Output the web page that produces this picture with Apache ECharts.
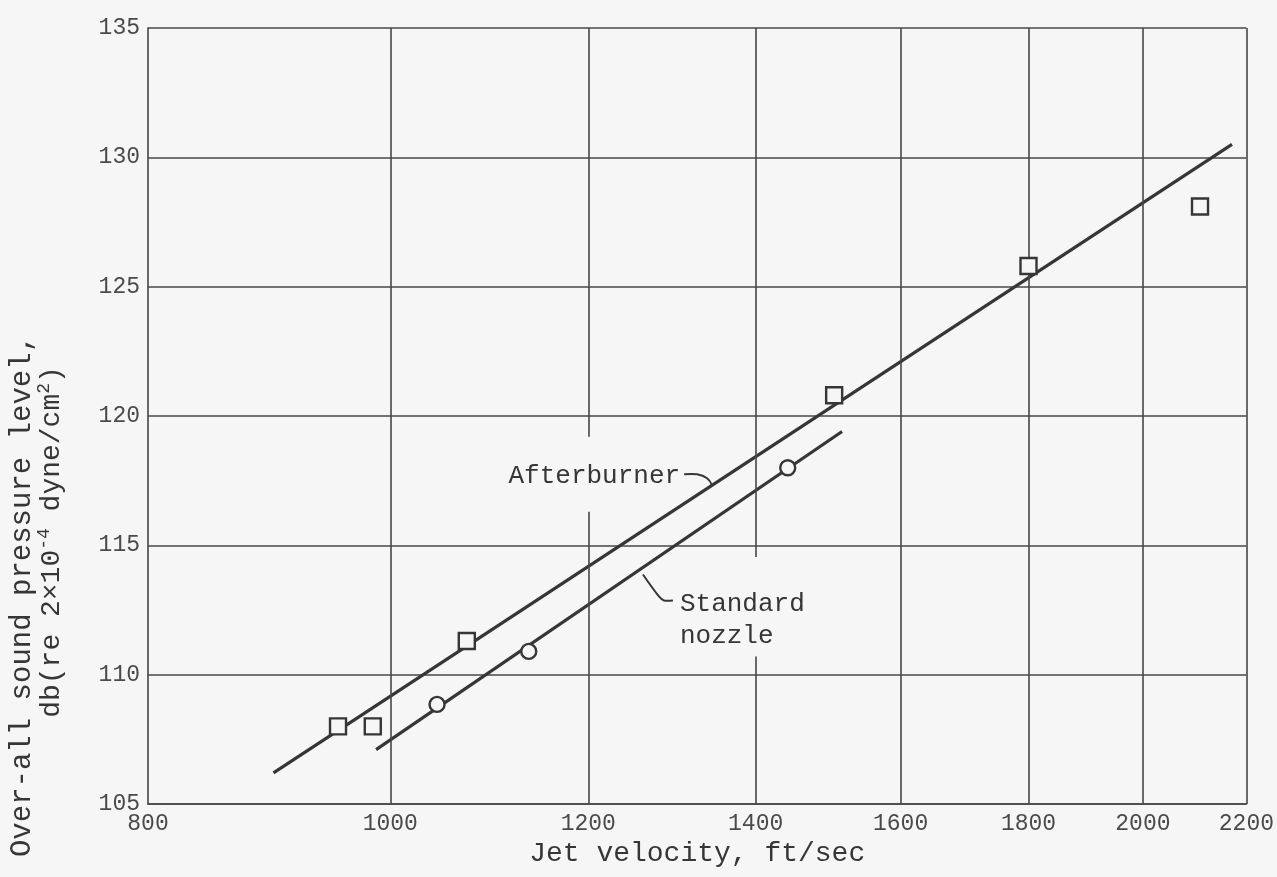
<!DOCTYPE html>
<html>
<head>
<meta charset="utf-8">
<script src="https://cdn.jsdelivr.net/npm/echarts@6/dist/echarts.min.js"></script>
<style>
  html, body { margin: 0; padding: 0; background: #f6f6f6; }
  #chart { width: 1277px; height: 877px; }
</style>
</head>
<body>
<div id="chart"></div>
<script>
// Jet velocity tick values (log-scale axis) and sound pressure level range
const xTicks = [800, 1000, 1200, 1400, 1600, 1800, 2000, 2200];
const yMin = 105, yMax = 135, yStep = 5;

// Measured points: [jet velocity ft/sec, db]
const afterburnerPts = [[953, 108.0], [984, 108.0], [1073, 111.3], [1505, 120.8], [1800, 125.8], [2108, 128.1]];
const standardPts = [[1044, 108.85], [1136, 110.9], [1442, 118.0]];

// Faired lines through each data set (end points)
const afterburnerFit = [[898, 106.2], [2171, 130.5]];
const standardFit = [[987, 107.1], [1516, 119.4]];

// Vertical grid lines are interrupted where the labels sit: [from db, to db]
const gridBreaks = { 1200: [116.3, 119.2], 1400: [110.7, 114.55] };

const INK = '#363636';
const GRID = '#474747';
const BG = '#f6f6f6';
const MONO = '"Liberation Mono", "DejaVu Sans Mono", monospace';

// Vertical grid segments built from the tick values
const vGrid = [];
xTicks.slice(1).forEach(function (v) {
  const br = gridBreaks[v];
  if (br) {
    vGrid.push([{ coord: [v, yMin] }, { coord: [v, br[0]] }]);
    vGrid.push([{ coord: [v, br[1]] }, { coord: [v, yMax] }]);
  } else {
    vGrid.push([{ coord: [v, yMin] }, { coord: [v, yMax] }]);
  }
});

const chart = echarts.init(document.getElementById('chart'), null, { renderer: 'canvas' });

chart.setOption({
  backgroundColor: BG,
  animation: false,
  grid: { left: 148, right: 29, top: 28, bottom: 73 },
  xAxis: {
    type: 'log',
    logBase: 10,
    min: xTicks[0],
    max: xTicks[xTicks.length - 1],
    name: 'Jet velocity, ft/sec',
    nameLocation: 'middle',
    nameGap: 36,
    nameTextStyle: { fontFamily: MONO, fontSize: 28, color: INK },
    axisLine: { show: true, lineStyle: { color: GRID, width: 1.6 } },
    axisTick: { show: false },
    splitLine: { show: false },
    minorTick: { show: false },
    axisLabel: {
      customValues: xTicks,
      margin: 8,
      fontFamily: MONO,
      fontSize: 23,
      color: '#4a4a4a',
      formatter: function (v) { return String(Math.round(v)); }
    }
  },
  yAxis: {
    type: 'value',
    min: yMin,
    max: yMax,
    interval: yStep,
    axisLine: { show: true, lineStyle: { color: GRID, width: 1.6 } },
    axisTick: { show: false },
    splitLine: { show: true, lineStyle: { color: GRID, width: 1.6 } },
    axisLabel: { margin: 8, fontFamily: MONO, fontSize: 23, color: '#4a4a4a' }
  },
  series: [
    {
      name: 'grid',
      type: 'line',
      data: [],
      silent: true,
      markLine: {
        silent: true,
        symbol: ['none', 'none'],
        label: { show: false },
        lineStyle: { color: GRID, width: 1.6, type: 'solid' },
        emphasis: { disabled: true },
        data: vGrid
      }
    },
    {
      name: 'Afterburner fit',
      type: 'line',
      data: afterburnerFit,
      symbol: 'none',
      lineStyle: { color: INK, width: 3.2 },
      z: 3
    },
    {
      name: 'Standard nozzle fit',
      type: 'line',
      data: standardFit,
      symbol: 'none',
      lineStyle: { color: INK, width: 3.2 },
      z: 3
    },
    {
      name: 'Afterburner',
      type: 'scatter',
      data: afterburnerPts,
      symbol: 'rect',
      symbolSize: 16,
      itemStyle: { color: BG, borderColor: INK, borderWidth: 2.4, opacity: 1 },
      z: 5
    },
    {
      name: 'Standard nozzle',
      type: 'scatter',
      data: standardPts,
      symbol: 'circle',
      symbolSize: 15,
      itemStyle: { color: BG, borderColor: INK, borderWidth: 2.4, opacity: 1 },
      z: 5
    }
  ]
});

// y value of a faired line at velocity x (straight in log-x, linear-y)
function onFit(fit, x) {
  const a = fit[0], b = fit[1];
  const t = (Math.log10(x) - Math.log10(a[0])) / (Math.log10(b[0]) - Math.log10(a[0]));
  return a[1] + t * (b[1] - a[1]);
}

const A = chart.convertToPixel({ gridIndex: 0 }, [1345, onFit(afterburnerFit, 1345)]);
const S0 = chart.convertToPixel({ gridIndex: 0 }, [1262, onFit(standardFit, 1262)]);
const S = [S0[0], S0[1] + 7];

chart.setOption({
  graphic: [
    {
      type: 'text', z: 10,
      style: {
        text: 'Over-all sound pressure level,',
        x: 22, y: 596, align: 'center', verticalAlign: 'middle',
        font: '29px ' + MONO, fill: INK
      },
      rotation: Math.PI / 2, originX: 22, originY: 596
    },
    {
      type: 'text', z: 10,
      style: {
        text: '{n|db(re 2\u00d710}{s|-4}{n| dyne/cm}{s|2}{n|)}',
        x: 52, y: 542, align: 'center', verticalAlign: 'middle',
        rich: {
          n: { fontFamily: MONO, fontSize: 28, fill: INK, lineHeight: 34 },
          s: { fontFamily: MONO, fontSize: 18, fill: INK, verticalAlign: 'top', lineHeight: 34 }
        }
      },
      rotation: Math.PI / 2, originX: 52, originY: 542
    },
    {
      type: 'text', z: 10,
      style: {
        text: 'Afterburner',
        x: A[0] - 32, y: A[1] - 9, align: 'right', verticalAlign: 'middle',
        font: '26px ' + MONO, fill: INK
      }
    },
    {
      type: 'polyline', z: 10,
      shape: {
        points: [[A[0] - 28, A[1] - 11], [A[0] - 15, A[1] - 11], [A[0] - 5, A[1] - 7], [A[0], A[1]]],
        smooth: 0.4
      },
      style: { stroke: INK, lineWidth: 2, fill: null }
    },
    {
      type: 'text', z: 10,
      style: {
        text: 'Standard\nnozzle',
        x: S[0] + 37, y: S[1] + 14, align: 'left', verticalAlign: 'top',
        lineHeight: 32,
        font: '26px ' + MONO, fill: INK
      }
    },
    {
      type: 'polyline', z: 10,
      shape: {
        points: [[S[0], S[1]], [S[0] + 16, S[1] + 22], [S[0] + 21, S[1] + 26], [S[0] + 30, S[1] + 26]],
        smooth: 0.3
      },
      style: { stroke: INK, lineWidth: 2, fill: null }
    }
  ]
});
</script>
</body>
</html>
